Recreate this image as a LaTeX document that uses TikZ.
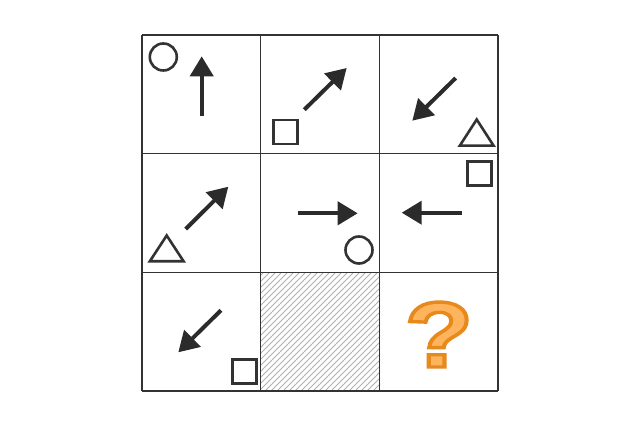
\documentclass[tikz,border=0pt]{standalone}
\usepackage{fontspec}
\newfontfamily\qfont{Liberation Sans}
\usetikzlibrary{arrows.meta}
\definecolor{inkgray}{HTML}{2B2B2B}
\definecolor{gridgray}{HTML}{333333}
\definecolor{hatchgray}{HTML}{B0B0B0}
\definecolor{qfill}{HTML}{FDB45C}
\definecolor{qedge}{HTML}{E8891C}
% outlined glyph: fill and stroke text render mode
\newcommand{\outlinedq}[1]{\special{pdf:literal direct 2 Tr 3.4 w 0.91 0.537 0.11 RG}#1\special{pdf:literal direct 0 Tr}}
\tikzset{
  arr/.style={line width=4pt, inkgray, -{Triangle[width=23pt,length=20pt]}},
  outl/.style={draw=gridgray, line width=2.6pt},
  circ/.style={outl, circle, minimum size=27pt, inner sep=0pt},
  sq/.style={outl, rectangle, minimum size=24pt, inner sep=0pt},
  gridline/.style={gridgray, line width=1.6pt},
  qtext/.style={font=\qfont\bfseries\fontsize{93}{93}\selectfont, inner sep=0pt, anchor=base},
}
\begin{document}
\begin{tikzpicture}[x=1pt, y=-1pt]
    \useasboundingbox (0,0) rectangle (640,427);
    % hatched cell
    \begin{scope}
      \clip (261,273) rectangle (380,391);
      \foreach \x in {139,145,...,385}
        \draw[hatchgray, line width=0.8pt] (\x,391) -- (\x+118,273);
    \end{scope}
    % grid
    \foreach \i in {0,...,3} {
      \draw[gridline] (142+118.67*\i,35) -- (142+118.67*\i,391);
      \draw[gridline] (142,35+118.67*\i) -- (498,35+118.67*\i);
    }
    % row 1
    \node[circ] (c11) at (163.3,57) {};
    \draw[arr] (201.7,116.3) -- (201.7,56.3);
    \node[sq] (s12) at (285.3,132) {};
    \draw[arr] (304.3,109.7) -- (346.7,68);
    \draw[arr] (455.7,78) -- (412.3,120.7);
    \draw[outl, line join=miter] (476.7,119.5) -- (459.8,145.7) -- (493.6,145.7) -- cycle;
    % row 2
    \draw[outl, line join=miter] (166.7,235.5) -- (149.8,261.3) -- (183.6,261.3) -- cycle;
    \draw[arr] (185.7,229) -- (228.3,186.7);
    \draw[arr] (297.7,213.3) -- (357.7,213.3);
    \node[circ] (c22) at (359,250) {};
    \node[sq] (s23) at (479.5,173.8) {};
    \draw[arr] (461.7,212.7) -- (401.7,212.7);
    % row 3
    \draw[arr] (221,310.3) -- (178.3,352.3);
    \node[sq] (s31) at (244.2,371.3) {};
    \node[qtext, text=qfill] (q) at (439,367) {\scalebox{1.2}[1]{\outlinedq{?}}};
\end{tikzpicture}
\end{document}
